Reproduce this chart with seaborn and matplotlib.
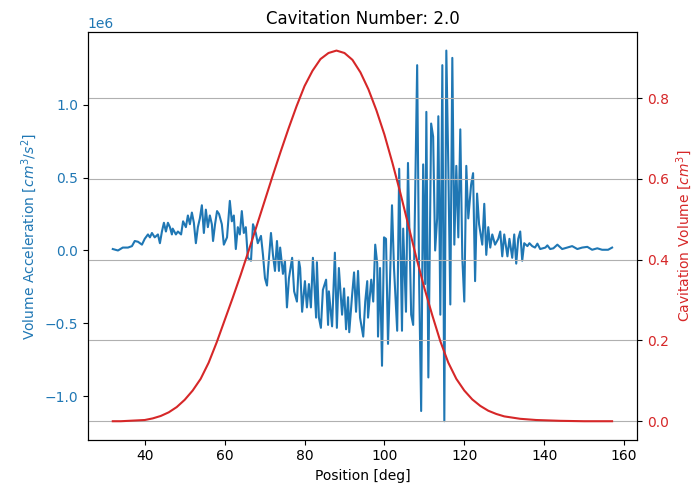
import numpy as np
import pandas as pd
import seaborn as sns
import matplotlib
matplotlib.use("Agg")
import matplotlib.pyplot as plt

# values
cav_number = 2.0

# volume acceleration, position [deg] and value [1e6 cm^3/s^2]
acc_pos = [32.0, 33.3, 34.5, 35.8, 36.8, 37.5, 38.3, 39.3, 40.0, 40.8, 41.3, 41.8, 42.5, 43.3, 43.8,
           44.3, 44.8, 45.3, 45.8, 46.3, 46.8, 47.0, 47.8, 48.3, 49.1, 49.6, 50.3, 50.8, 51.3, 51.8,
           52.3, 52.8, 53.3, 53.8, 54.3, 54.8, 55.3, 55.8, 56.3, 56.8, 57.1, 57.6, 58.1, 58.6, 59.3,
           59.8, 60.6, 61.3, 61.8, 62.3, 62.8, 63.3, 63.8, 64.3, 64.8, 65.3, 65.8, 66.6, 67.1, 67.8,
           68.3, 69.1, 69.6, 70.1, 70.6, 70.9, 71.6, 72.1, 72.6, 73.1, 73.6, 73.9, 74.6, 75.1, 75.6,
           76.1, 76.9, 77.4, 78.1, 78.6, 78.9, 79.4, 80.1, 80.6, 81.1, 81.6, 82.1, 82.9, 83.1, 83.6,
           84.1, 84.6, 85.4, 85.9, 86.1, 86.9, 87.6, 88.1, 88.6, 89.4, 89.9, 90.4, 90.9, 91.2, 91.9,
           92.4, 92.9, 93.4, 93.9, 94.7, 95.2, 95.7, 95.9, 96.7, 97.2, 97.7, 98.2, 98.4, 98.9, 99.4,
           99.9, 100.4, 100.9, 101.4, 101.9, 102.4, 103.2, 103.7, 104.4, 104.7, 105.4, 105.9, 106.7,
           107.2, 108.2, 108.7, 109.2, 109.7, 110.2, 110.5, 111.0, 111.7, 112.2, 112.7, 113.2, 113.5,
           114.0, 114.5, 115.0, 115.5, 116.0, 116.5, 117.0, 117.5, 118.0, 118.5, 119.0, 119.5, 120.0,
           120.5, 121.0, 121.7, 122.2, 122.7, 123.2, 123.7, 124.5, 125.0, 125.5, 126.0, 126.5, 127.0,
           127.7, 128.5, 129.0, 129.5, 130.0, 130.8, 131.3, 132.0, 132.5, 133.0, 133.5, 134.0, 134.5,
           135.0, 135.8, 136.3, 137.0, 137.7, 138.3, 139.0, 140.3, 140.8, 141.5, 142.3, 143.3, 144.5,
           145.8, 147.0, 148.3, 149.5, 150.8, 152.0, 153.3, 154.5, 156.0, 157.0]
acc_val = [0.01, 0.0, 0.02, 0.02, 0.03, 0.065, 0.06, 0.04, 0.08, 0.11, 0.09, 0.12, 0.09, 0.11, 0.05,
           0.13, 0.19, 0.13, 0.19, 0.16, 0.11, 0.15, 0.11, 0.13, 0.11, 0.20, 0.16, 0.24, 0.18, 0.26,
           0.19, 0.05, 0.16, 0.22, 0.31, 0.12, 0.28, 0.16, 0.24, 0.18, 0.065, 0.18, 0.27, 0.25, 0.18,
           0.04, 0.09, 0.34, 0.20, 0.24, 0.01, 0.16, 0.11, 0.27, 0.12, 0.16, -0.05, -0.07, 0.18, 0.12,
           0.05, 0.10, -0.03, -0.19, -0.24, -0.12, 0.12, -0.03, -0.14, 0.065, -0.14, 0.02, -0.16, -0.07, -0.39,
           -0.19, -0.05, -0.28, -0.35, -0.07, -0.12, -0.42, -0.21, -0.39, -0.23, -0.39, -0.05, -0.46, -0.08, -0.46,
           -0.53, -0.27, -0.20, -0.51, -0.28, -0.52, -0.015, -0.53, -0.12, -0.44, -0.26, -0.54, -0.32, -0.56, -0.31,
           -0.15, -0.42, -0.14, -0.46, -0.59, -0.35, -0.21, -0.46, -0.20, -0.35, 0.04, -0.09, -0.59, -0.12, -0.79,
           0.09, 0.08, -0.64, -0.20, 0.31, -0.12, -0.55, 0.56, -0.55, 0.15, -0.42, 0.60, -0.44,
           -0.51, 1.27, -0.23, -1.10, 0.59, -0.23, 0.95, -0.87, 0.87, 0.78, 0.0, 0.22, 0.92,
           -0.44, 1.27, -1.17, 1.37, 0.57, -0.37, 1.32, 0.04, 0.58, 0.09, 0.83, -0.05, -0.35,
           0.58, 0.22, 0.45, 0.53, -0.21, 0.39, 0.18, 0.04, 0.32, -0.03, 0.16, 0.02, 0.11,
           0.04, 0.08, 0.13, -0.04, 0.11, -0.04, 0.08, -0.05, 0.11, -0.09, 0.08, 0.13, -0.07,
           0.05, 0.03, 0.05, 0.03, 0.02, 0.047, 0.01, 0.02, 0.035, 0.01, 0.015, 0.04, 0.01,
           0.02, 0.03, 0.01, 0.02, 0.025, 0.005, 0.015, 0.005, 0.005, 0.02]

# cavitation volume [cm^3], read every 2 deg
vol_pos = [32, 34, 36, 38, 40, 42, 44, 46, 48, 50, 52, 54, 56, 58, 60, 62, 64, 66, 68, 70,
           72, 74, 76, 78, 80, 82, 84, 86, 88, 90, 92, 94, 96, 98, 100, 102, 104, 106, 108, 110,
           112, 114, 116, 118, 120, 122, 124, 126, 128, 130, 134, 138, 144, 150, 157]
vol_val = [0.0, 0.0, 0.001, 0.002, 0.003, 0.007, 0.013, 0.022, 0.035, 0.053, 0.076, 0.105, 0.145,
           0.195, 0.25, 0.305, 0.362, 0.422, 0.483, 0.545, 0.607, 0.667, 0.725, 0.78, 0.83, 0.868,
           0.897, 0.912, 0.918, 0.912, 0.895, 0.864, 0.822, 0.77, 0.71, 0.64, 0.565, 0.485, 0.405,
           0.33, 0.262, 0.198, 0.145, 0.105, 0.076, 0.054, 0.038, 0.026, 0.018, 0.012, 0.006,
           0.003, 0.001, 0.0, 0.0]

acc = pd.DataFrame({"pos": acc_pos, "acc": np.array(acc_val) * 1e6})
vol = pd.DataFrame({"pos": vol_pos, "vol": vol_val})

fig, ax1 = plt.subplots(figsize=(6.97, 4.93), dpi=100)
fig.subplots_adjust(left=0.126, right=0.914, top=0.935, bottom=0.108)

color = "tab:blue"
sns.lineplot(data=acc, x="pos", y="acc", ax=ax1, color=color, estimator=None, sort=False)
ax1.set_xlabel("Position [deg]")
ax1.set_ylabel("Volume Acceleration [$cm^3/s^2$]", color=color)
ax1.tick_params(axis="y", labelcolor=color)
ax1.yaxis.get_offset_text().set_color(color)

ax2 = ax1.twinx()
color = "tab:red"
sns.lineplot(data=vol, x="pos", y="vol", ax=ax2, color=color, estimator=None, sort=False)
ax2.set_ylabel("Cavitation Volume [$cm^3$]", color=color)
ax2.tick_params(axis="y", labelcolor=color)
ax2.grid(axis="y")

ax1.set_title("Cavitation Number: " + str(cav_number))

plt.savefig("out.png", dpi=100)
